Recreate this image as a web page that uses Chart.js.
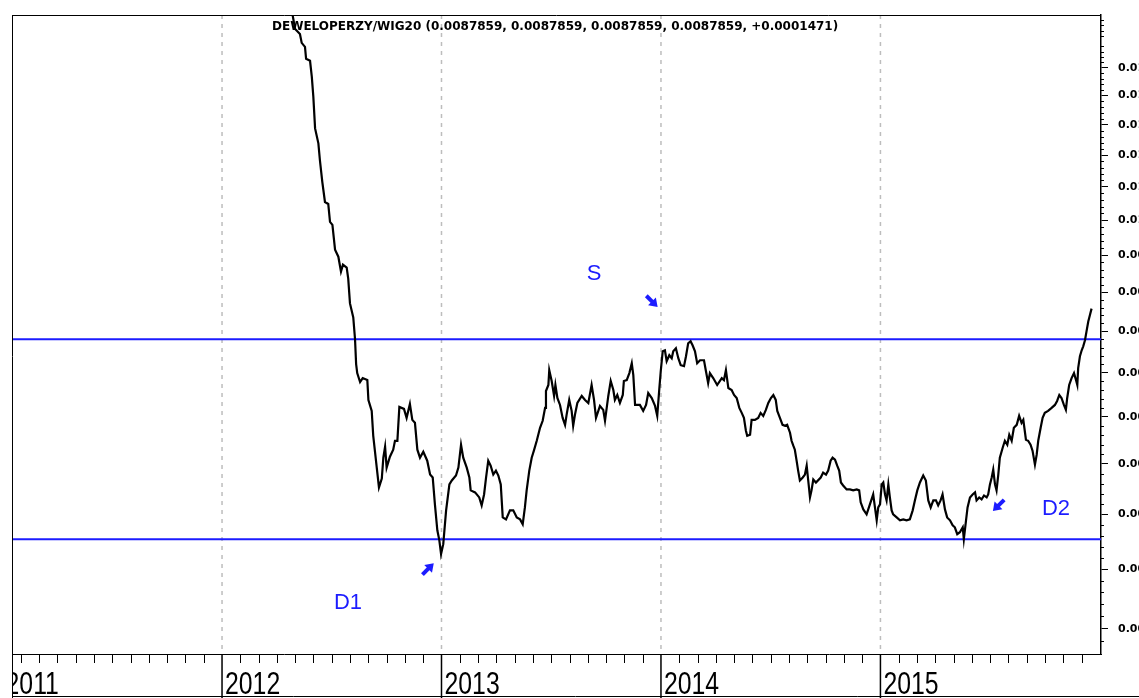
<!DOCTYPE html>
<html><head><meta charset="utf-8">
<script src="https://cdn.jsdelivr.net/npm/chart.js@4"></script>
<style>html,body{margin:0;padding:0;background:#fff;overflow:hidden}canvas{display:block}</style>
</head><body>
<canvas id="c" width="1139" height="698"></canvas>
<script>
const titleText = 'DEWELOPERZY/WIG20 (0.0087859, 0.0087859, 0.0087859, 0.0087859, +0.0001471)';

// time in decimal years
const dates = [
2012.305,2012.333,2012.355,2012.363,2012.378,2012.383,2012.401,2012.409,2012.416,2012.424,
2012.439,2012.446,2012.457,2012.469,2012.484,2012.492,2012.503,2012.515,2012.530,2012.542,
2012.551,2012.568,2012.575,2012.583,2012.598,2012.606,2012.611,2012.616,2012.629,2012.641,
2012.662,2012.667,2012.682,2012.689,2012.705,2012.715,2012.728,2012.735,2012.743,2012.750,
2012.765,2012.780,2012.788,2012.799,2012.808,2012.829,2012.841,2012.856,2012.867,2012.879,
2012.890,2012.902,2012.917,2012.935,2012.948,2012.960,2012.970,2012.981,2012.990,2012.998,
2013.008,2013.021,2013.036,2013.047,2013.066,2013.077,2013.089,2013.099,2013.115,2013.127,
2013.133,2013.153,2013.172,2013.183,2013.194,2013.203,2013.213,2013.224,2013.236,2013.248,
2013.259,2013.270,2013.279,2013.294,2013.312,2013.327,2013.343,2013.358,2013.370,2013.380,
2013.388,2013.400,2013.411,2013.421,2013.434,2013.449,2013.461,2013.472,2013.476,2013.487,
2013.491,2013.502,2013.513,2013.519,2013.528,2013.540,2013.552,2013.563,2013.570,2013.582,
2013.593,2013.600,2013.608,2013.619,2013.639,2013.654,2013.669,2013.684,2013.695,2013.704,
2013.722,2013.737,2013.745,2013.760,2013.771,2013.783,2013.790,2013.801,2013.813,2013.826,
2013.831,2013.844,2013.856,2013.867,2013.874,2013.882,2013.904,2013.919,2013.932,2013.942,
2013.958,2013.973,2013.983,2013.992,2013.999,2014.008,2014.018,2014.026,2014.038,2014.049,
2014.056,2014.068,2014.079,2014.090,2014.105,2014.114,2014.124,2014.135,2014.144,2014.155,
2014.165,2014.178,2014.196,2014.205,2014.215,2014.223,2014.238,2014.256,2014.277,2014.287,
2014.296,2014.307,2014.322,2014.333,2014.345,2014.357,2014.368,2014.378,2014.387,2014.393,
2014.406,2014.413,2014.428,2014.443,2014.454,2014.466,2014.478,2014.489,2014.501,2014.512,
2014.523,2014.530,2014.542,2014.554,2014.565,2014.575,2014.588,2014.595,2014.603,2014.610,
2014.618,2014.625,2014.633,2014.646,2014.656,2014.664,2014.671,2014.679,2014.686,2014.694,
2014.706,2014.728,2014.739,2014.752,2014.762,2014.773,2014.782,2014.793,2014.803,2014.812,
2014.820,2014.830,2014.846,2014.861,2014.876,2014.892,2014.903,2014.910,2014.922,2014.937,
2014.952,2014.967,2014.975,2014.983,2014.990,2014.998,2015.006,2015.013,2015.021,2015.028,
2015.036,2015.043,2015.051,2015.058,2015.074,2015.089,2015.104,2015.119,2015.134,2015.147,
2015.157,2015.168,2015.180,2015.195,2015.207,2015.218,2015.229,2015.241,2015.253,2015.263,
2015.274,2015.283,2015.294,2015.304,2015.317,2015.329,2015.339,2015.350,2015.362,2015.375,
2015.380,2015.390,2015.397,2015.408,2015.420,2015.431,2015.438,2015.450,2015.461,2015.472,
2015.484,2015.491,2015.499,2015.507,2015.514,2015.522,2015.529,2015.537,2015.544,2015.557,
2015.567,2015.578,2015.587,2015.598,2015.608,2015.621,2015.632,2015.643,2015.651,2015.663,
2015.673,2015.684,2015.693,2015.704,2015.712,2015.719,2015.730,2015.739,2015.749,2015.764,
2015.780,2015.795,2015.805,2015.815,2015.825,2015.836,2015.845,2015.851,2015.860,2015.871,
2015.882,2015.891,2015.897,2015.901,2015.909,2015.917,2015.924,2015.932,2015.939,2015.947,
2015.954,2015.962
];

// DEWELOPERZY / WIG20 ratio
const ratio = [
0.013901,0.013230,0.013134,0.012963,0.012888,0.012665,0.012628,0.012337,0.011983,0.011438,
0.011191,0.010917,0.010573,0.010270,0.010240,0.009975,0.009932,0.009577,0.009480,0.009275,
0.009370,0.009329,0.009181,0.008853,0.008674,0.008401,0.008101,0.007995,0.007891,0.007937,
0.007914,0.007687,0.007565,0.007294,0.006962,0.006763,0.006852,0.007064,0.007178,0.006962,
0.007074,0.007147,0.007241,0.007241,0.007609,0.007587,0.007488,0.007642,0.007466,0.007434,
0.007147,0.007064,0.007126,0.007033,0.006892,0.006862,0.006597,0.006352,0.006261,0.006134,
0.006224,0.006540,0.006793,0.006832,0.006882,0.006962,0.007199,0.007064,0.006962,0.006862,
0.006734,0.006714,0.006665,0.006587,0.006694,0.006862,0.007033,0.006982,0.006892,0.006932,
0.006882,0.006793,0.006473,0.006454,0.006540,0.006540,0.006473,0.006454,0.006408,0.006568,
0.006734,0.006932,0.007064,0.007137,0.007241,0.007380,0.007456,0.007598,0.007788,0.007857,
0.008029,0.007903,0.007732,0.007857,0.007709,0.007631,0.007488,0.007412,0.007521,0.007687,
0.007565,0.007401,0.007521,0.007653,0.007732,0.007687,0.007653,0.007857,0.007687,0.007488,
0.007620,0.007576,0.007456,0.007732,0.007903,0.007799,0.007687,0.007743,0.007653,0.007743,
0.007903,0.007914,0.007995,0.008112,0.007972,0.007631,0.007631,0.007565,0.007631,0.007765,
0.007709,0.007620,0.007510,0.007799,0.008017,0.008255,0.008267,0.008135,0.008207,0.008171,
0.008255,0.008291,0.008171,0.008088,0.008077,0.008195,0.008352,0.008376,0.008327,0.008255,
0.008112,0.008147,0.008147,0.008017,0.007880,0.007995,0.007937,0.007857,0.007937,0.007914,
0.008029,0.007822,0.007799,0.007743,0.007709,0.007598,0.007543,0.007488,0.007348,0.007294,
0.007305,0.007466,0.007466,0.007488,0.007543,0.007510,0.007576,0.007653,0.007709,0.007743,
0.007687,0.007565,0.007488,0.007412,0.007401,0.007412,0.007327,0.007241,0.007189,0.007147,
0.007033,0.006932,0.006832,0.006862,0.006892,0.006982,0.006832,0.006665,0.006734,0.006842,
0.006812,0.006862,0.006912,0.006892,0.006932,0.007033,0.007064,0.007044,0.006982,0.006932,
0.006812,0.006783,0.006744,0.006744,0.006734,0.006744,0.006734,0.006617,0.006549,0.006502,
0.006597,0.006694,0.006568,0.006445,0.006568,0.006597,0.006793,0.006812,0.006694,0.006636,
0.006793,0.006665,0.006540,0.006502,0.006473,0.006445,0.006454,0.006445,0.006454,0.006540,
0.006636,0.006734,0.006812,0.006882,0.006832,0.006636,0.006568,0.006636,0.006636,0.006587,
0.006636,0.006694,0.006549,0.006473,0.006445,0.006399,0.006380,0.006316,0.006334,0.006380,
0.006270,0.006445,0.006568,0.006665,0.006694,0.006714,0.006636,0.006665,0.006646,0.006684,
0.006665,0.006694,0.006793,0.006862,0.006942,0.006793,0.006734,0.006892,0.007064,0.007168,
0.007241,0.007199,0.007305,0.007241,0.007380,0.007412,0.007510,0.007434,0.007466,0.007252,
0.007241,0.007199,0.007137,0.006993,0.007095,0.007241,0.007380,0.007488,0.007543,0.007565,
0.007598,0.007631,0.007676,0.007743,0.007709,0.007631,0.007576,0.007709,0.007857,0.007937,
0.007995,0.007914,0.007857,0.008053,0.008195,0.008267,0.008315,0.008389,0.008499,0.008623,
0.008699,0.0087859
];

const levels = [0.008401, 0.006270];           // resistance S / support D1-D2
const yearTicks = [2011, 2012, 2013, 2014, 2015];
const yearLabels = ['2011', '2012', '2013', '2014', '2015'];
const valueTicks = [0.0055,0.006,0.0065,0.007,0.0075,0.008,0.0085,0.009,0.0095,0.01,0.0105,0.011,0.0115,0.012,0.0125];
const valueLabels = ['0.0055','0.0060','0.0065','0.0070','0.0075','0.0080','0.0085','0.0090','0.0095','0.0100','0.0105','0.0110','0.0115','0.0120','0.0125'];
const xRange = [2011.043, 2016.005];
const yRange = [0.005326, 0.013503];

const noteText = ['S', 'D1', 'D2'];
const noteT = [2013.695, 2012.574, 2015.800];
const noteV = [0.009249, 0.005713, 0.006549];
const arrowT = [2012.939, 2013.959, 2015.538];
const arrowV = [0.006003, 0.008879, 0.006587];
const arrowAngle = [-45, 45, 135];

const BLUE = '#1c1cff';
const n = Math.min(dates.length, ratio.length);
const series = [];
for (let i = 0; i < n; i++) series.push({x: dates[i], y: ratio[i]});

const overlay = {
  id: 'overlay',
  beforeDatasetsDraw(chart) {
    const {ctx, chartArea: a, scales: {x}} = chart;
    ctx.save();
    ctx.strokeStyle = '#bdbdbd'; ctx.lineWidth = 1.5; ctx.setLineDash([4, 5]);
    yearTicks.forEach(yr => {
      const px = x.getPixelForValue(yr);
      if (px <= a.left + 1 || px >= a.right - 1) return;
      ctx.beginPath(); ctx.moveTo(px, a.top); ctx.lineTo(px, a.bottom); ctx.stroke();
    });
    ctx.restore();
  },
  afterDraw(chart) {
    const {ctx, chartArea: a, scales: {x, y}} = chart;
    const W = chart.width, H = chart.height;
    ctx.save();
    ctx.strokeStyle = '#000'; ctx.lineWidth = 1;
    ctx.beginPath();
    ctx.moveTo(a.left, a.top + 0.5); ctx.lineTo(a.right, a.top + 0.5);
    ctx.moveTo(a.left + 0.5, a.top); ctx.lineTo(a.left + 0.5, H);
    ctx.moveTo(a.left, H - 1.5); ctx.lineTo(W, H - 1.5);
    ctx.stroke();
    // month ticks
    ctx.beginPath();
    for (let yr = 2011; yr <= 2015; yr++) for (let m = 1; m < 12; m++) {
      const px = Math.round(x.getPixelForValue(yr + m / 12)) + 0.5;
      if (px < a.left || px > a.right) continue;
      ctx.moveTo(px, a.bottom); ctx.lineTo(px, a.bottom + 9);
    }
    ctx.stroke();
    // year separators in the axis strip
    ctx.lineWidth = 1.5; ctx.beginPath();
    yearTicks.forEach(yr => {
      const px = x.getPixelForValue(yr);
      if (px < a.left) return;
      ctx.moveTo(px, a.bottom); ctx.lineTo(px, H);
    });
    ctx.stroke();
    // year labels (condensed)
    ctx.save();
    ctx.beginPath(); ctx.rect(a.left + 1, a.bottom, a.right - a.left, H - a.bottom); ctx.clip();
    ctx.fillStyle = '#000';
    ctx.font = '31px "Liberation Sans"';
    ctx.textAlign = 'left'; ctx.textBaseline = 'alphabetic';
    yearTicks.forEach((yr, i) => {
      const px = x.getPixelForValue(yr);
      ctx.save();
      ctx.translate(px + 3, a.bottom + 39.5);
      ctx.scale(0.8, 1);
      ctx.fillText(yearLabels[i], 0, 0);
      ctx.restore();
    });
    ctx.restore();
    // minor ticks on value axis
    ctx.lineWidth = 1; ctx.beginPath();
    for (let i = 53; i <= 136; i++) {
      if (i % 5 === 0) continue;
      const py = Math.round(y.getPixelForValue(i / 10000)) + 0.5;
      if (py < a.top || py > a.bottom) continue;
      ctx.moveTo(a.right, py); ctx.lineTo(a.right + 3, py);
    }
    ctx.stroke();
    // title
    ctx.fillStyle = '#000';
    ctx.font = 'bold 12px "DejaVu Sans"';
    ctx.textBaseline = 'middle'; ctx.textAlign = 'left';
    ctx.letterSpacing = '0px';
    const w = ctx.measureText(titleText).width;
    ctx.letterSpacing = ((566 - w) / (titleText.length - 1)).toFixed(2) + 'px';
    ctx.fillText(titleText, a.left + 260, a.top + 12);
    ctx.letterSpacing = '0px';
    // notes
    ctx.fillStyle = BLUE;
    ctx.font = '22px "Liberation Sans"';
    ctx.textAlign = 'center';
    noteText.forEach((t, i) => ctx.fillText(t, x.getPixelForValue(noteT[i]), y.getPixelForValue(noteV[i])));
    // arrows
    arrowT.forEach((t, i) => {
      ctx.save();
      ctx.translate(x.getPixelForValue(t), y.getPixelForValue(arrowV[i]));
      ctx.rotate(arrowAngle[i] * Math.PI / 180);
      ctx.fillRect(-8, -2, 9, 4);
      ctx.beginPath(); ctx.moveTo(8, 0); ctx.lineTo(0, -5.5); ctx.lineTo(0, 5.5); ctx.closePath(); ctx.fill();
      ctx.restore();
    });
    ctx.restore();
  }
};

new Chart(document.getElementById('c'), {
  type: 'line',
  data: {
    datasets: [
      {data: series, borderColor: '#000', borderWidth: 2.2, pointRadius: 0, tension: 0},
      {data: [{x: xRange[0], y: levels[0]}, {x: xRange[1], y: levels[0]}], borderColor: BLUE, borderWidth: 2, pointRadius: 0},
      {data: [{x: xRange[0], y: levels[1]}, {x: xRange[1], y: levels[1]}], borderColor: BLUE, borderWidth: 2, pointRadius: 0}
    ]
  },
  options: {
    responsive: false, animation: false, devicePixelRatio: 1,
    layout: {padding: {left: 12, top: 15, right: 0, bottom: 0}},
    plugins: {legend: {display: false}, tooltip: {enabled: false}, title: {display: false}},
    scales: {
      x: {
        type: 'linear', position: 'bottom', min: xRange[0], max: xRange[1],
        grid: {display: false, drawTicks: false, tickLength: 0},
        border: {display: true, color: '#000', width: 1},
        afterBuildTicks: s => { s.ticks = yearTicks.map(v => ({value: v})); },
        afterFit: s => { s.height = 44; s.paddingLeft = 0; s.paddingRight = 0; },
        ticks: {display: false, autoSkip: false, maxRotation: 0}
      },
      y: {
        type: 'logarithmic', position: 'right', min: yRange[0], max: yRange[1],
        grid: {drawOnChartArea: false, drawTicks: true, tickLength: 7, color: '#000', lineWidth: 1},
        border: {display: true, color: '#000', width: 1.5},
        afterBuildTicks: s => { s.ticks = valueTicks.map(v => ({value: v})); },
        afterFit: s => { s.width = 38; s.paddingTop = 0; s.paddingBottom = 0; },
        ticks: {
          autoSkip: false, padding: 10, color: '#000',
          font: {family: '"DejaVu Sans"', size: 11, weight: 'bold'},
          callback: v => valueLabels[valueTicks.indexOf(v)] ?? ''
        }
      }
    }
  },
  plugins: [overlay]
});
</script>
</body></html>
